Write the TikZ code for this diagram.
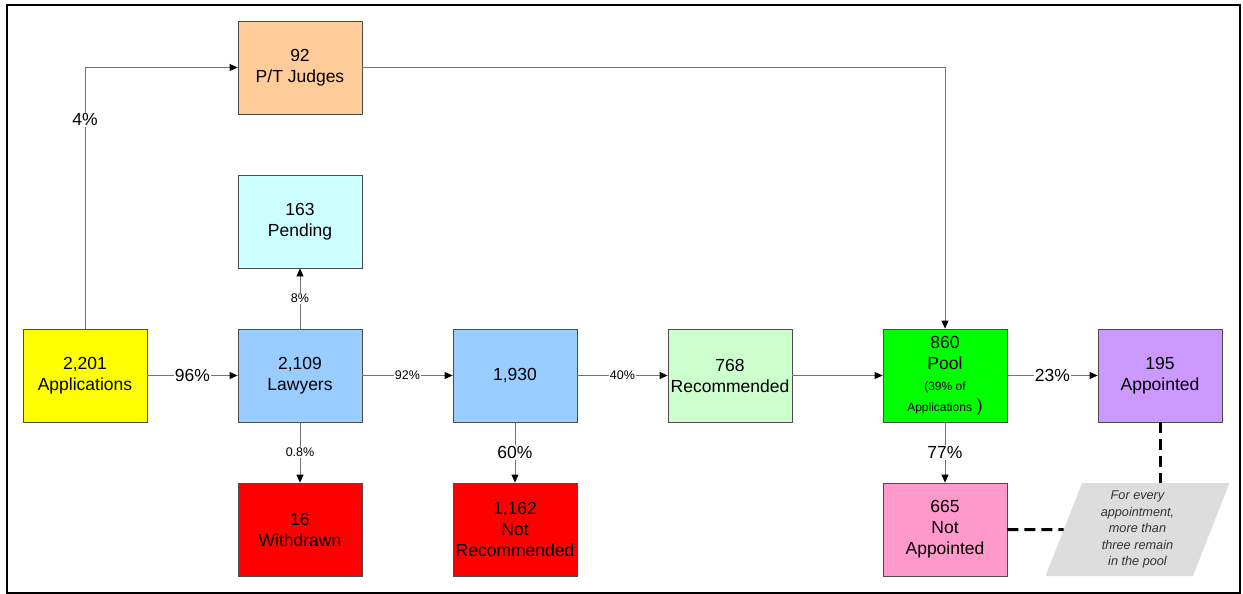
\documentclass[tikz,border=0pt]{standalone}
\usepackage{fontspec}
\setmainfont{Liberation Sans}
\usetikzlibrary{positioning,arrows.meta,shapes.geometric}
\definecolor{appyellow}{HTML}{FFFF00}
\definecolor{judgeorange}{HTML}{FFCC99}
\definecolor{pendcyan}{HTML}{CCFFFF}
\definecolor{lawblue}{HTML}{99CCFF}
\definecolor{recgreen}{HTML}{CCFFCC}
\definecolor{poolgreen}{HTML}{00FF00}
\definecolor{apptviolet}{HTML}{CC99FF}
\definecolor{napink}{HTML}{FF99CC}
\definecolor{notegray}{HTML}{DDDDDD}
\begin{document}
\begin{tikzpicture}[x=1pt,y=-1pt,node distance=154pt and 215pt,on grid,
    box/.style={draw=black!70,line width=0.8pt,minimum width=124pt,minimum height=93pt,
      align=center,font=\fontsize{17.5}{21}\selectfont,inner sep=0pt},
    flow/.style={draw=black!55,line width=0.8pt,-{Triangle[length=8pt,width=7pt,black]}},
    big/.style={fill=white,inner sep=1pt,font=\fontsize{17.5}{21}\selectfont},
    small/.style={fill=white,inner sep=1pt,font=\fontsize{12.5}{14}\selectfont},
    link/.style={draw=black,line width=3pt,dash pattern=on 11pt off 6pt}]
  \useasboundingbox (0,0) rectangle (1243,594);
  \draw[line width=2pt] (7,5.5) rectangle (1240,592.5);
  \node [box,fill=appyellow] (app) at (85,375.5) {2,201\\Applications};
  \node [box,fill=lawblue,right=of app] (law) {2,109\\Lawyers};
  \node [box,fill=pendcyan,above=of law] (pend) {163\\Pending};
  \node [box,fill=judgeorange,above=of pend] (judge) {92\\P/T Judges};
  \node [box,fill=red,below=of law] (wd) {16\\Withdrawn};
  \node [box,fill=lawblue,right=of law] (screen) {1,930};
  \node [box,fill=red,below=of screen] (notrec) {1,162\\Not\\Recommended};
  \node [box,fill=recgreen,right=of screen] (rec) {768\\Recommended};
  \node [box,fill=poolgreen,right=of rec] (pool)
    {860\\Pool\\{\fontsize{12}{17}\selectfont(39\% of}\\{\fontsize{12}{17}\selectfont Applications} )};
  \node [box,fill=apptviolet,right=of pool] (appt) {195\\Appointed};
  \node [box,fill=napink,below=of pool] (notapp) {665\\Not\\Appointed};
  \node [trapezium,trapezium stretches body,trapezium left angle=64.7,trapezium right angle=115.3,
    fill=notegray,minimum width=184pt,minimum height=93pt,inner sep=0pt,align=center,
    text=black!80,font=\fontsize{12.7}{16.5}\selectfont\itshape,right=192.5pt of notapp] (note)
    {For every\\appointment,\\more than\\three remain\\in the pool};
  \path[flow]
    (app) edge node [big] {96\%} (law)
    (law) edge node [small] {92\%} (screen)
    (screen) edge node [small] {40\%} (rec)
    (rec) edge (pool)
    (pool) edge node [big] {23\%} (appt)
    (law) edge node [small] {8\%} (pend)
    (law) edge node [small] {0.8\%} (wd)
    (screen) edge node [big] {60\%} (notrec)
    (pool) edge node [big] {77\%} (notapp);
  \draw[flow] (app.north) |- node [big,pos=0.4] {4\%} (judge.west);
  \draw[flow] (judge.east) -| (pool.north);
  \draw[link] (appt.south) -- (appt.south |- note.north);
  \draw[link] (notapp.east) -- (note);
\end{tikzpicture}
\end{document}
